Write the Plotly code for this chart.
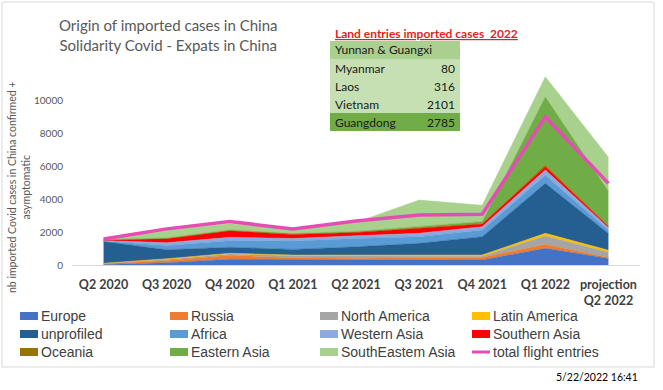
import plotly.graph_objects as go

# ---------------- data ----------------
categories = ["Q2 2020", "Q3 2020", "Q4 2020", "Q1 2021", "Q2 2021",
              "Q3 2021", "Q4 2021", "Q1 2022", "projection<br>Q2 2022"]

europe        = [30, 140, 350, 345, 345, 305, 305, 1015, 400]
russia        = [50, 140, 245, 100, 60, 140, 165, 245, 50]
north_america = [20, 60, 80, 120, 140, 105, 60, 505, 330]
latin_america = [10, 40, 40, 40, 60, 60, 80, 165, 120]
unprofiled    = [1315, 550, 365, 345, 505, 710, 1115, 3045, 1015]
africa        = [40, 265, 400, 505, 510, 405, 410, 490, 200]
western_asia  = [20, 160, 205, 165, 160, 205, 200, 320, 150]
southern_asia = [40, 245, 400, 245, 205, 305, 165, 200, 80]
oceania       = [5, 20, 20, 20, 20, 20, 30, 100, 50]
eastern_asia  = [10, 30, 30, 30, 40, 100, 120, 4160, 2090]
southeast_asia = [45, 510, 380, 260, 550, 1600, 990, 1220, 2075]
total_flight_entries = [1583, 2200, 2650, 2190, 2680, 3050, 3090, 9030, 4975]

series_names = ["Europe", "Russia", "North America", "Latin America",
                "unprofiled", "Africa", "Western Asia", "Southern Asia",
                "Oceania", "Eastern Asia", "SouthEastem Asia"]
series_values = [europe, russia, north_america, latin_america, unprofiled,
                 africa, western_asia, southern_asia, oceania, eastern_asia,
                 southeast_asia]
series_colors = ["#4472C4", "#ED7D31", "#A5A5A5", "#FFC000", "#255E91",
                 "#5B9BD5", "#8EA9DB", "#FF0000", "#997300", "#70AD47",
                 "#A9D18E"]
line_name = "total flight entries"
line_color = "#E64DB4"

y_tick_values = [0, 2000, 4000, 6000, 8000, 10000]
y_tick_labels = ["0", "2000", "4000", "6000", "8000", "10000"]

table_title = "Land entries imported cases  2022"
table_header = "Yunnan & Guangxi"
table_labels = ["Myanmar", "Laos", "Vietnam", "Guangdong"]
table_values = [80, 316, 2101, 2785]

timestamp = "5/22/2022 16:41"

# ---------------- layout helpers ----------------
W, H = 663, 390
L, R, T, B = 72, 23, 68, 125
PW, PH = W - L - R, H - T - B


def px(x):
    return (x - L) / PW


def py(y):
    return (H - B - y) / PH


FONT = "Lato, 'Open Sans', sans-serif"
NARROW = "'Liberation Sans Narrow', 'Arial Narrow', 'Liberation Sans', sans-serif"

fig = go.Figure()

for name, vals, col in zip(series_names, series_values, series_colors):
    fig.add_trace(go.Scatter(
        x=categories, y=vals, name=name, mode="lines",
        stackgroup="one", line=dict(width=0.5, color=col),
        fillcolor=col, hoverinfo="x+y+name"))

fig.add_trace(go.Scatter(
    x=categories, y=total_flight_entries, name=line_name, mode="lines",
    line=dict(color=line_color, width=3.5)))

shapes = []
annotations = []

# chart border
shapes.append(dict(type="rect", xref="paper", yref="paper",
                   x0=px(2), x1=px(654), y0=py(2), y1=py(367),
                   line=dict(color="#D9D9D9", width=1), layer="below"))

# title
annotations.append(dict(
    xref="paper", yref="paper", x=px(168), y=py(35),
    xanchor="center", yanchor="middle", showarrow=False,
    text="Origin of imported cases in China<br>Solidarity Covid - Expats in China",
    font=dict(family=FONT, size=15, color="#595959")))

# y-axis title
annotations.append(dict(
    xref="paper", yref="paper", x=px(19), y=py(188),
    xanchor="center", yanchor="middle", showarrow=False, textangle=-90,
    text="nb imported Covid cases in China confirmed +<br>asymptomatic",
    font=dict(family=FONT, size=10.5, color="#595959")))

# table
tx0, tx1 = 330, 460
row_tops = [41, 59, 77, 95, 113, 131]
row_colors = ["#A9D08E", "#C6E0B4", "#C6E0B4", "#C6E0B4", "#70AD47"]
for i, c in enumerate(row_colors):
    shapes.append(dict(type="rect", xref="paper", yref="paper",
                       x0=px(tx0), x1=px(tx1),
                       y0=py(row_tops[i + 1]), y1=py(row_tops[i]),
                       line=dict(width=0), fillcolor=c, layer="above"))

annotations.append(dict(
    xref="paper", yref="paper", x=px(333), y=py(33),
    xanchor="left", yanchor="middle", showarrow=False,
    text="<b><u>" + table_title + "</u></b>",
    font=dict(family=FONT, size=12, color="#E41E1E")))
annotations.append(dict(
    xref="paper", yref="paper", x=px(333), y=py(50),
    xanchor="left", yanchor="middle", showarrow=False,
    text=table_header, font=dict(family=FONT, size=12, color="#1a1a1a")))
for i, (lab, val) in enumerate(zip(table_labels, table_values)):
    yc = (row_tops[i + 1] + row_tops[i + 2]) / 2
    annotations.append(dict(
        xref="paper", yref="paper", x=px(333), y=py(yc),
        xanchor="left", yanchor="middle", showarrow=False,
        text=lab, font=dict(family=FONT, size=12, color="#1a1a1a")))
    annotations.append(dict(
        xref="paper", yref="paper", x=px(457), y=py(yc),
        xanchor="right", yanchor="middle", showarrow=False,
        text=str(val), font=dict(family=FONT, size=12, color="#1a1a1a")))

# legend (drawn as a 4-column grid, row-major, like the reference)
legend_names = series_names + [line_name]
legend_colors = series_colors + [line_color]
col_x = [20, 170, 320, 472]
row_y = [316, 334, 352]
for k, (nm, col) in enumerate(zip(legend_names, legend_colors)):
    r, c = divmod(k, 4)
    x0, yc = col_x[c], row_y[r]
    if nm == line_name:
        shapes.append(dict(type="line", xref="paper", yref="paper",
                           x0=px(x0), x1=px(x0 + 18), y0=py(yc), y1=py(yc),
                           line=dict(color=col, width=3)))
    else:
        shapes.append(dict(type="rect", xref="paper", yref="paper",
                           x0=px(x0), x1=px(x0 + 18),
                           y0=py(yc + 4), y1=py(yc - 4),
                           line=dict(width=0), fillcolor=col))
    annotations.append(dict(
        xref="paper", yref="paper", x=px(x0 + 19), y=py(yc),
        xanchor="left", yanchor="middle", showarrow=False,
        text=nm, font=dict(family=NARROW, size=14, color="#404040")))

# timestamp
annotations.append(dict(
    xref="paper", yref="paper", x=px(640), y=py(377),
    xanchor="right", yanchor="middle", showarrow=False,
    text=timestamp, font=dict(family=FONT, size=10.5, color="#000000")))

fig.update_layout(
    width=W, height=H,
    margin=dict(l=L, r=R, t=T, b=B, pad=0, autoexpand=False),
    paper_bgcolor="white", plot_bgcolor="white",
    showlegend=False,
    xaxis=dict(type="category", range=[-0.5, len(categories) - 0.5],
               showgrid=False, zeroline=False, showline=True,
               linecolor="#D9D9D9", linewidth=1, ticks="",
               tickfont=dict(family=FONT, size=12.5, color="#404040",
                             weight="bold"),
               ticklabelstandoff=8, fixedrange=True),
    yaxis=dict(range=[0, 12000], tickvals=y_tick_values,
               ticktext=y_tick_labels,
               showgrid=False, zeroline=False, showline=False,
               tickfont=dict(family=FONT, size=10, color="#595959"),
               ticklabelstandoff=8, fixedrange=True),
    shapes=shapes, annotations=annotations,
)

fig.write_html("out.html",
               config={"displayModeBar": False},
               post_script="document.body.style.margin='0';"
                           "document.body.style.overflow='hidden';")
